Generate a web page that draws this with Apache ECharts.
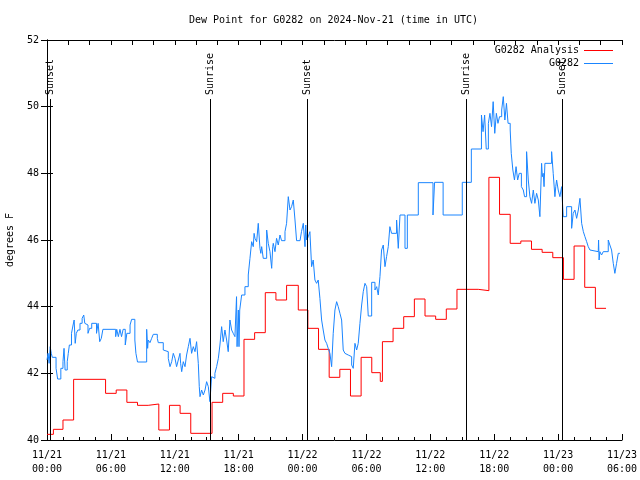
<!DOCTYPE html>
<html>
<head>
<meta charset="utf-8">
<script src="https://cdn.jsdelivr.net/npm/echarts@6/dist/echarts.min.js"></script>
<style>html,body{margin:0;padding:0;background:#fff}#c{width:640px;height:480px}</style>
</head>
<body>
<div id="c"></div>
<script>
// Hours since 2024-11-21 00:00 UTC
var tickLabels = ['11/21\n00:00','11/21\n06:00','11/21\n12:00','11/21\n18:00','11/22\n00:00','11/22\n06:00','11/22\n12:00','11/22\n18:00','11/23\n00:00','11/23\n06:00'];

var redHours = [0,0.6,1.5,2.5,5.5,6.5,7.5,8.5,9.5,10.5,11.5,12.5,13.5,15.5,16.5,17.5,18.5,19.5,20.5,21.5,22.5,23.6,24.5,25.5,26.5,27.5,28.5,29.5,30.5,31.3,31.5,32.5,33.5,34.5,35.5,36.5,37.5,38.5,40.5,41.5,42.5,43.5,44.5,45.5,46.5,47.5,48.5,49.5,50.5,51.5,52.5];
var redValues = [40.17,40.32,40.6,41.82,41.4,41.5,41.13,41.04,41.08,40.3,41.04,40.8,40.2,41.13,41.4,41.32,43.02,43.22,44.42,44.2,44.64,43.9,43.35,42.72,41.88,42.12,41.32,42.48,42.02,41.76,42.95,43.35,43.7,44.23,43.72,43.62,43.93,44.52,44.48,47.88,46.77,45.9,45.97,45.72,45.63,45.47,44.82,45.82,44.58,43.95,43.95];

var blueHours = [
0.0,0.1,0.2,0.3,0.4,0.5,0.85,1.0,1.3,1.5,1.6,1.7,1.9,2.0,2.1,2.3,2.45,2.55,2.65,2.75,2.9,3.1,3.3,3.45,3.55,3.7,3.85,4.0,4.2,4.65,4.8,4.95,5.1,5.25,6.45,6.55,6.7,6.85,7.0,7.15,7.35,7.5,7.8,7.95,8.25,8.35,8.5,
9.36,9.45,9.51,9.67,9.83,9.98,10.36,10.45,10.92,11.08,11.39,11.55,11.71,11.86,12.02,12.17,12.33,12.49,12.55,12.65,12.8,12.96,13.11,13.27,13.43,13.58,13.74,13.9,14.05,14.21,14.3,14.37,14.52,14.68,14.84,14.99,15.15,15.3,15.46,15.62,15.77,15.93,16.09,16.24,16.4,16.55,16.71,16.87,17.02,17.18,17.34,17.49,
17.65,17.8,17.85,17.97,18.03,18.1,18.28,18.59,18.9,19.06,19.22,19.37,19.45,19.53,19.69,19.84,20.0,20.08,20.16,20.31,20.63,20.78,20.94,21.1,21.2,21.25,21.41,21.56,21.72,21.88,22.03,22.35,22.5,22.66,22.82,22.97,23.13,23.29,23.44,23.76,23.9,24.07,24.23,24.3,24.38,24.54,24.69,24.85,25.0,25.16,25.32,25.47,25.63,25.79,25.94,26.1,26.26,26.41,26.57,26.73,26.88,
27.04,27.2,27.35,27.51,27.67,27.82,27.98,28.14,28.29,28.45,28.61,28.76,28.92,29.08,29.23,29.39,29.55,29.7,29.86,30.02,30.17,30.49,30.8,30.96,31.11,31.27,31.42,31.58,31.74,31.89,32.05,32.2,32.36,32.83,32.99,33.15,33.62,33.84,34.87,
36.25,36.4,37.2,39.0,39.85,40.8,40.95,41.1,41.25,41.45,41.6,41.75,41.9,42.05,42.2,42.35,42.5,42.7,42.85,43.0,43.15,43.3,43.5,43.6,43.75,43.9,44.05,44.2,44.35,44.55,
44.73,44.85,45.04,45.2,45.35,45.51,45.67,45.82,45.98,46.14,46.29,46.45,46.52,46.6,46.68,46.76,47.39,47.54,47.7,47.78,47.86,48.01,48.17,48.33,48.48,48.8,49.27,49.42,49.58,49.74,49.9,50.05,50.21,50.37,50.52,50.68,50.83,50.99,51.15,51.77,51.8,51.85,51.92,52.08,52.24,52.71,52.86,53.02,53.18,53.33,53.49,53.65,53.8];
var blueValues = [
42.4,42.6,42.3,42.8,42.6,42.48,42.15,41.83,42.15,42.35,42.75,42.1,42.35,42.6,42.85,43.2,43.45,43.6,42.9,43.2,43.3,43.5,43.65,43.75,43.5,43.45,43.2,43.35,43.5,43.2,43.5,42.95,43.05,43.32,43.1,43.32,43.1,43.32,43.1,43.32,42.85,43.2,43.45,43.62,43.0,42.6,42.34,
43.32,42.75,43.0,42.92,43.05,43.17,43.05,42.92,42.7,42.65,42.45,42.2,42.35,42.6,42.45,42.2,42.4,42.6,42.3,42.05,42.35,42.2,42.55,42.8,43.05,42.6,42.8,42.65,42.95,42.3,41.6,41.3,41.5,41.35,41.5,41.75,41.6,41.15,41.9,41.85,42.0,42.2,42.45,42.85,43.4,42.95,43.3,43.0,42.65,43.6,43.3,43.2,
43.1,44.3,42.8,43.9,42.8,43.9,44.35,44.6,44.95,45.45,45.95,45.8,46.2,46.05,45.95,46.5,45.75,45.6,45.8,45.45,46.3,45.9,45.65,45.15,45.8,45.9,45.65,46.05,45.85,46.15,45.98,46.25,46.5,47.3,46.9,47.0,47.2,46.6,45.98,46.0,46.25,46.5,45.8,46.45,46.0,46.1,46.25,45.2,45.4,44.8,44.7,44.8,44.25,43.6,43.3,43.0,42.9,42.75,42.6,42.2,43.2,
43.9,44.15,44.0,43.8,43.6,42.7,42.6,42.55,42.6,42.5,42.25,42.15,42.9,42.7,42.9,43.5,44.05,44.45,44.7,44.6,43.72,44.73,44.5,44.6,44.35,44.9,45.7,45.85,45.2,45.5,45.8,46.4,46.2,46.6,45.75,46.75,45.75,46.75,47.72,
46.75,47.73,46.75,47.73,48.73,49.75,49.25,49.75,48.73,49.5,49.8,49.4,50.15,49.2,49.8,49.5,49.7,49.9,50.3,49.6,50.1,49.5,49.3,48.6,48.1,47.8,48.2,47.8,48.0,47.6,
47.5,47.3,48.65,47.8,47.3,47.1,47.5,47.1,47.4,47.2,46.7,48.3,47.9,48.0,47.6,48.3,48.65,48.0,47.3,47.6,47.8,47.5,47.3,47.6,46.7,47.0,46.35,46.8,46.9,46.65,46.9,47.25,46.5,46.25,46.1,45.95,45.8,45.7,45.65,45.65,46.0,45.4,45.65,45.55,45.65,46.0,45.85,45.7,45.3,45.0,45.3,45.6,45.6];

var sunHours = [0.28, 15.3, 24.41, 39.34, 48.36];
var sunLabels = ['Sunset', 'Sunrise', 'Sunset', 'Sunrise', 'Sunset'];
var sunLineTop = 50.23;

var FONT = '"DejaVu Sans Mono", "Liberation Mono", monospace';

function zip(a, b) { return a.map(function (v, i) { return [v, b[i]]; }); }

var chart = echarts.init(document.getElementById('c'), null, { renderer: 'canvas' });
chart.setOption({
  animation: false,
  backgroundColor: '#fff',
  title: {
    text: 'Dew Point for G0282 on 2024-Nov-21 (time in UTC)',
    left: 189, top: 15, padding: 0,
    textStyle: { fontFamily: FONT, fontSize: 10, fontWeight: 'normal', color: '#000' }
  },
  legend: {
    orient: 'vertical', align: 'right', right: 22, top: 40,
    itemWidth: 29, itemHeight: 1, itemGap: 2, icon: 'rect',
    textStyle: { fontFamily: FONT, fontSize: 10, color: '#000', lineHeight: 11 },
    data: ['G0282 Analysis', 'G0282']
  },
  grid: { left: 47, right: 18, top: 40, bottom: 40, show: false, outerBoundsMode: 'none', containLabel: false },
  xAxis: [{
    type: 'value', position: 'bottom', min: 0, max: 54, interval: 6,
    axisLine: { show: true, lineStyle: { color: '#000', width: 1 } },
    axisTick: { show: true, inside: true, length: 6, lineStyle: { color: '#000' } },
    minorTick: { show: true, splitNumber: 4, length: 3, lineStyle: { color: '#000' } },
    splitLine: { show: false },
    axisLabel: {
      margin: 8, fontFamily: FONT, fontSize: 10, color: '#000', lineHeight: 14,
      formatter: function (v) { return tickLabels[Math.round(v / 6)]; }
    }
  }, {
    type: 'value', position: 'top', min: 0, max: 54, interval: 2,
    axisLine: { show: true, lineStyle: { color: '#000', width: 1 } },
    axisTick: { show: true, inside: true, length: 5, lineStyle: { color: '#000' } },
    splitLine: { show: false }, axisLabel: { show: false }
  }],
  yAxis: [{
    type: 'value', position: 'left', min: 40, max: 52, interval: 2,
    name: 'degrees F', nameLocation: 'middle', nameRotate: 90, nameGap: 32,
    nameTextStyle: { fontFamily: FONT, fontSize: 10, color: '#000' },
    axisLine: { show: true, lineStyle: { color: '#000', width: 1 } },
    axisTick: { show: true, inside: true, length: 6, lineStyle: { color: '#000' } },
    splitLine: { show: false },
    axisLabel: { margin: 8, fontFamily: FONT, fontSize: 10, color: '#000' }
  }, {
    type: 'value', position: 'right', min: 40, max: 52, interval: 2,
    axisLine: { show: true, lineStyle: { color: '#000', width: 1 } },
    axisTick: { show: true, inside: true, length: 6, lineStyle: { color: '#000' } },
    splitLine: { show: false }, axisLabel: { show: false }
  }],
  series: [{
    name: 'G0282 Analysis', type: 'line', step: 'end', showSymbol: false,
    data: zip(redHours, redValues),
    lineStyle: { color: '#ff0000', width: 1 }, itemStyle: { color: '#ff0000' },
    z: 3
  }, {
    name: 'G0282', type: 'line', step: 'end', showSymbol: false,
    data: zip(blueHours, blueValues),
    lineStyle: { color: '#1a85ff', width: 1 }, itemStyle: { color: '#1a85ff' },
    z: 4
  }, {
    name: 'sun', type: 'custom',
    data: sunHours.map(function (h) { return [h]; }),
    renderItem: function (params, api) {
      var t = api.value(0);
      var pb = api.coord([t, 40]);
      var pt = api.coord([t, sunLineTop]);
      var x = Math.round(pb[0]) + 0.5;
      return {
        type: 'group',
        children: [{
          type: 'line',
          shape: { x1: x, y1: pb[1], x2: x, y2: pt[1] },
          style: { stroke: '#000', lineWidth: 1 }
        }, {
          type: 'text', x: x, y: pt[1] - 4, rotation: Math.PI / 2,
          style: {
            text: sunLabels[params.dataIndex], fill: '#000',
            font: '10px ' + FONT, align: 'left', verticalAlign: 'middle'
          }
        }]
      };
    },
    z: 5
  }]
});
</script>
</body>
</html>
